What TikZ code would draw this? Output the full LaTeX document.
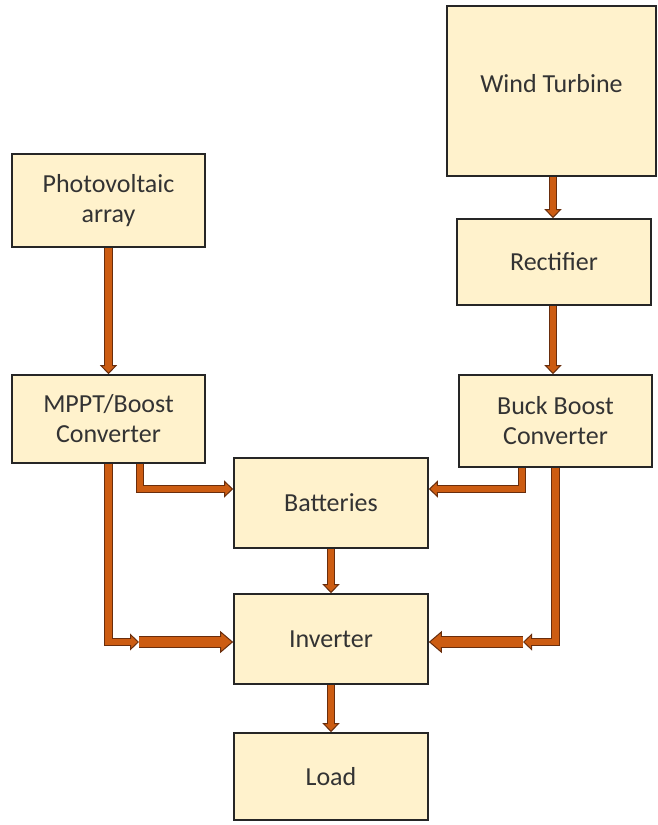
\documentclass[tikz,border=0pt]{standalone}
\usepackage{fontspec}
\setmainfont{Carlito}
\usepackage{tikz}
\usetikzlibrary{arrows.meta,positioning,calc}
\definecolor{boxfill}{RGB}{255,242,204}
\definecolor{pipefill}{RGB}{204,92,18}
\definecolor{pipeedge}{RGB}{105,45,12}

\begin{document}
\begin{tikzpicture}[x=1pt,y=-1pt,
    block/.style={draw=black!85, line width=1.6pt, fill=boxfill, align=center,
        text=black!80, font=\fontsize{26}{30}\selectfont, inner sep=0pt},
    pipe/.style={draw=pipeedge, line width=8.5pt, line join=miter,
        -{Triangle[length=9pt,width=17pt,fill=pipefill,line width=1pt]},
        postaction={draw=pipefill, line width=6.5pt, arrows=-, shorten >=5pt}},
    bigpipe/.style={draw=pipeedge, line width=12pt, line join=miter,
        -{Triangle[length=13pt,width=22pt,fill=pipefill,line width=1pt]},
        postaction={draw=pipefill, line width=9.5pt, arrows=-, shorten >=7pt}}]
        \useasboundingbox (0,0) rectangle (657,825);

        \node[block, minimum width=209pt, minimum height=170pt, text depth=16pt] (wind) at (551.5,91) {Wind Turbine};
        \node[block, minimum width=193pt, minimum height=93pt] (pv) at (108.5,200.5) {Photovoltaic\\array};
        \node[block, minimum width=194pt, minimum height=86pt] (rect) at (554,262) {Rectifier};
        \node[block, minimum width=193pt, minimum height=88pt] (mppt) at (108.5,419) {MPPT/Boost\\Converter};
        \node[block, minimum width=193pt, minimum height=92pt] (buck) at (555.5,421) {Buck Boost\\Converter};
        \node[block, minimum width=194pt, minimum height=90pt] (batt) at (331,503) {Batteries};
        \node[block, minimum width=194pt, minimum height=90pt] (inv) at (331,639) {Inverter};
        \node[block, minimum width=194pt, minimum height=87pt] (load) at (331,776.5) {Load};

        \coordinate (pvjoin) at (139,642);
        \coordinate (wtjoin) at (523,642);

        \draw[pipe] (pv.south) -- (mppt.north);
        \draw[pipe] (wind.south -| 553,0) -- (rect.north -| 553,0);
        \draw[pipe] (rect.south -| 553,0) -- (buck.north -| 553,0);

        \draw[pipe] (mppt.south -| 140,0) |- (batt.west |- 0,489);
        \draw[pipe] (buck.south -| 522,0) |- (batt.east |- 0,489);

        \draw[pipe] (mppt.south) |- (pvjoin);
        \draw[bigpipe] (pvjoin) -- (inv.west |- pvjoin);
        \draw[pipe] (buck.south) |- (wtjoin);
        \draw[bigpipe] (wtjoin) -- (inv.east |- wtjoin);

        \draw[pipe] (batt.south) -- (inv.north);
        \draw[pipe] (inv.south) -- (load.north);
    \end{tikzpicture}
\end{document}
